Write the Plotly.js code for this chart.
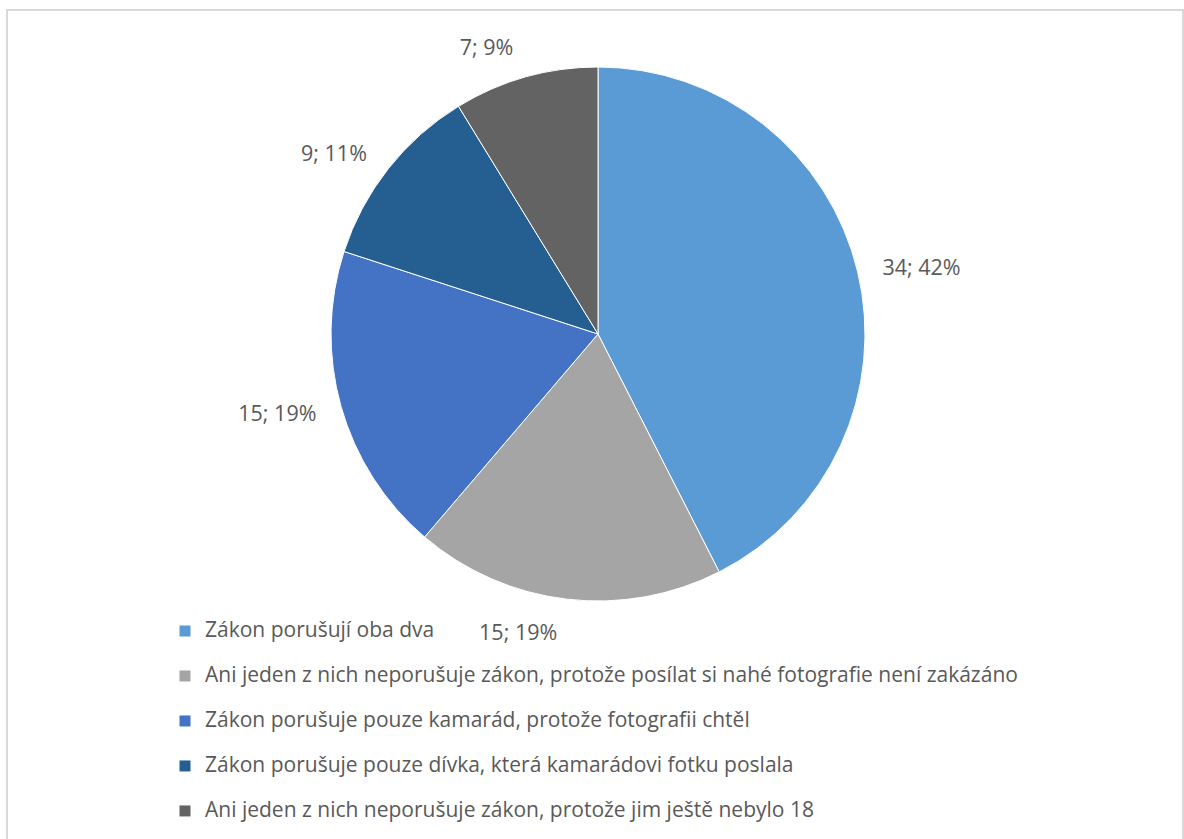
<!DOCTYPE html>
<html>
<head>
<meta charset="utf-8">
<script src="https://cdn.plot.ly/plotly-3.0.1.min.js"></script>
<style>html,body{margin:0;padding:0;background:#fff;}#chart{width:1184px;height:839px;}</style>
</head>
<body>
<div id="chart"></div>
<script>
var categories = [
  "Zákon porušují oba dva",
  "Ani jeden z nich neporušuje zákon, protože posílat si nahé fotografie není zakázáno",
  "Zákon porušuje pouze kamarád, protože fotografii chtěl",
  "Zákon porušuje pouze dívka, která kamarádovi fotku poslala",
  "Ani jeden z nich neporušuje zákon, protože jim ještě nebylo 18"
];
var counts = [34, 15, 15, 9, 7];
var percentLabels = ["42%", "19%", "19%", "11%", "9%"];
var sliceColors = ["#5B9BD5", "#A5A5A5", "#4472C4", "#255E91", "#636363"];

var FONT = "Open Sans, Noto Sans, sans-serif";
var TXT = "#595959";

var legendLabels = categories.map(function (c) {
  return '<span style="font-size:21px">' + c + '</span><br> ';
});

var W = 1184, H = 839;
var cx = 598, cy = 334, r = 267, rl = 285;

var pie = {
  type: "pie",
  labels: legendLabels,
  values: counts,
  sort: false,
  direction: "clockwise",
  rotation: 0,
  marker: { colors: sliceColors, line: { color: "#ffffff", width: 1 } },
  textinfo: "none",
  hoverinfo: "none",
  domain: { x: [(cx - r) / W, (cx + r) / W], y: [(H - cy - r) / H, (H - cy + r) / H] },
  showlegend: true
};

var labelPie = {
  type: "pie",
  labels: categories,
  values: counts,
  text: percentLabels,
  sort: false,
  direction: "clockwise",
  rotation: 0,
  marker: { colors: ["rgba(0,0,0,0)", "rgba(0,0,0,0)", "rgba(0,0,0,0)", "rgba(0,0,0,0)", "rgba(0,0,0,0)"], line: { width: 0 } },
  textposition: "outside",
  texttemplate: "%{value}; %{text}",
  outsidetextfont: { family: FONT, size: 21.5, color: TXT },
  hoverinfo: "none",
  showlegend: false,
  domain: { x: [(cx - rl) / W, (cx + rl) / W], y: [(H - cy - rl) / H, (H - cy + rl) / H] }
};

var layout = {
  width: W, height: H,
  margin: { l: 0, r: 0, t: 0, b: 0, autoexpand: false },
  paper_bgcolor: "#ffffff",
  font: { family: FONT, color: TXT },
  showlegend: true,
  legend: {
    x: 165 / W, xanchor: "left",
    y: (H - 614) / H, yanchor: "top",
    orientation: "v",
    valign: "top",
    font: { family: FONT, size: 16.15, color: TXT },
    bgcolor: "rgba(0,0,0,0)",
    borderwidth: 0
  },
  shapes: [{
    type: "rect", xref: "paper", yref: "paper",
    x0: 7 / W, x1: 1183 / W, y0: -0.02, y1: (H - 10) / H,
    line: { color: "#d9d9d9", width: 2 }, fillcolor: "rgba(0,0,0,0)", layer: "below"
  }]
};

Plotly.newPlot("chart", [pie, labelPie], layout, { displayModeBar: false, staticPlot: true });
</script>
</body>
</html>
